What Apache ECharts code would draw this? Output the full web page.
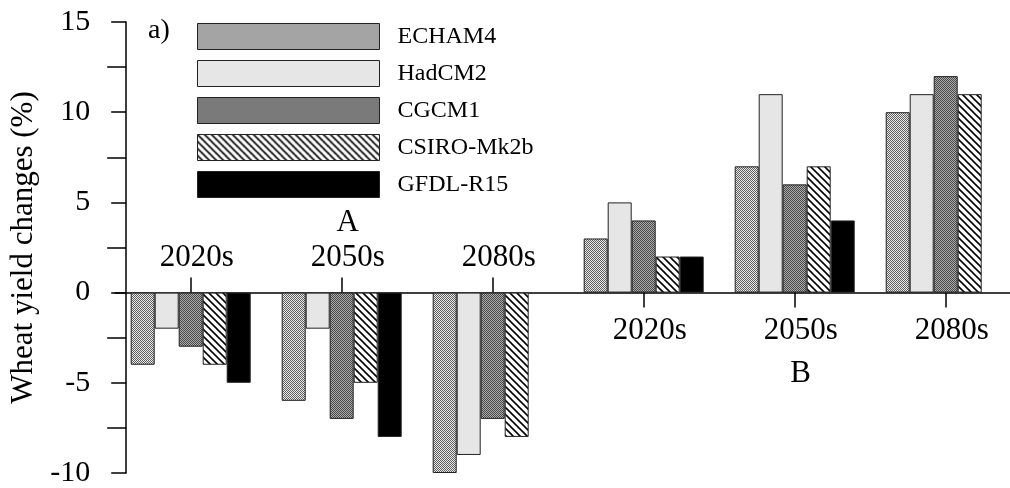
<!DOCTYPE html>
<html>
<head>
<meta charset="utf-8">
<title>Wheat yield changes</title>
<script src="https://cdn.jsdelivr.net/npm/echarts@6/dist/echarts.min.js"></script>
<style>
  html, body { margin: 0; padding: 0; background: #fff; }
  #chart { width: 1010px; height: 488px; }
</style>
</head>
<body>
<div id="chart"></div>
<script>
// Scenario groups (A, B) and time slices along the x axis
const groupNames = ['A', 'B'];
const periodLabels = ['2020s', '2050s', '2080s'];
const categories = ['A-2020s', 'A-2050s', 'A-2080s', 'B-2020s', 'B-2050s', 'B-2080s'];

// Wheat yield changes (%) per climate model, one value per category
const modelNames = ['ECHAM4', 'HadCM2', 'CGCM1', 'CSIRO-Mk2b', 'GFDL-R15'];
const echam4 = [-4, -6, -10, 3, 7, 10];
const hadcm2 = [-2, -2, -9, 5, 11, 11];
const cgcm1 = [-3, -7, -7, 4, 6, 12];
const csiro = [-4, -5, -8, 2, 7, 11];
const gfdl = [-5, -8, null, 2, 4, null];

// Y axis range and tick step
const yMin = -10, yMax = 15, yStep = 5;

const FONT = '"Liberation Serif", "DejaVu Serif", serif';

// Plot box
const plotLeft = 115.2, plotTop = 22, plotWidth = 906, plotHeight = 451;
// Height of the part of the plot above the zero line; the category
// labels/ticks live on the bottom edge of a helper grid of this height.
const upperHeight = plotHeight * (yMax - 0) / (yMax - yMin);

// Small canvas tiles used as fill patterns
function checkerTile(dark, light) {
  const c = document.createElement('canvas');
  c.width = 2; c.height = 2;
  const g = c.getContext('2d');
  g.fillStyle = light; g.fillRect(0, 0, 2, 2);
  g.fillStyle = dark; g.fillRect(0, 0, 1, 1); g.fillRect(1, 1, 1, 1);
  return { image: c, repeat: 'repeat' };
}
function hatchTile() {
  const s = 7;
  const c = document.createElement('canvas');
  c.width = s; c.height = s;
  const g = c.getContext('2d');
  g.fillStyle = '#fff'; g.fillRect(0, 0, s, s);
  g.strokeStyle = '#000'; g.lineWidth = 1.6;
  for (const k of [-s, 0, s]) {
    g.beginPath(); g.moveTo(k - 1, -1); g.lineTo(k + s + 1, s + 1); g.stroke();
  }
  return { image: c, repeat: 'repeat' };
}

const fills = [
  checkerTile('#5e5e5e', '#eaeaea'),
  '#e6e6e6',
  checkerTile('#4a4a4a', '#ababab'),
  hatchTile(),
  '#000000'
];
const seriesValues = [echam4, hadcm2, cgcm1, csiro, gfdl];

const axisStroke = { color: '#000', width: 1.5 };

const chart = echarts.init(document.getElementById('chart'), null, { renderer: 'canvas' });

const option = {
  backgroundColor: '#fff',
  animation: false,
  grid: [
    { left: plotLeft, top: plotTop, width: plotWidth, height: plotHeight,
      containLabel: false, outerBoundsMode: 'none' },
    { left: plotLeft, top: plotTop, width: plotWidth, height: upperHeight,
      containLabel: false, outerBoundsMode: 'none' }
  ],
  legend: {
    orient: 'vertical',
    left: 197, top: 23, padding: 0,
    icon: 'rect',
    itemWidth: 182, itemHeight: 26, itemGap: 10,
    itemStyle: { borderWidth: 1, borderColor: '#222' },
    textStyle: { fontFamily: FONT, fontSize: 24, color: '#000', lineHeight: 26, padding: [0, 0, 0, 13] },
    data: modelNames
  },
  graphic: [
    { type: 'text', left: 148, top: 17, style: { text: 'a)', font: '28px ' + FONT, fill: '#000' } }
  ],
  xAxis: [
    {
      type: 'category', data: categories, gridIndex: 0, position: 'bottom',
      axisLine: { show: true, onZero: true, onZeroAxisIndex: 0, lineStyle: axisStroke },
      axisTick: { show: false }, axisLabel: { show: false }, splitLine: { show: false }
    },
    {
      // group A: labels and ticks above the zero line
      type: 'category', data: categories, gridIndex: 1, position: 'bottom',
      axisLine: { show: false, onZero: false },
      axisTick: { show: true, inside: true, length: 15, alignWithLabel: true,
        interval: (i) => i < 3, lineStyle: axisStroke },
      axisLabel: {
        show: true, inside: true, margin: 19, interval: (i) => i < 3,
        fontFamily: FONT, fontSize: 31, color: '#000', lineHeight: 32, padding: [0, 0, 0, 12],
        formatter: (v, i) => (i === 1 ? '{n|' + groupNames[0] + '}\n' : '') + periodLabels[i % 3],
        rich: { n: { fontFamily: FONT, fontSize: 31, color: '#000', lineHeight: 38 } }
      },
      splitLine: { show: false }
    },
    {
      // group B: labels and ticks below the zero line
      type: 'category', data: categories, gridIndex: 1, position: 'bottom',
      axisLine: { show: false, onZero: false },
      axisTick: { show: true, inside: false, length: 15, alignWithLabel: true,
        interval: (i) => i >= 3, lineStyle: axisStroke },
      axisLabel: {
        show: true, inside: false, margin: 22, interval: (i) => i >= 3,
        fontFamily: FONT, fontSize: 31, color: '#000', lineHeight: 32, padding: [0, 0, 0, 12],
        formatter: (v, i) => periodLabels[i % 3] + (i === 4 ? '\n{n|' + groupNames[1] + '}' : ''),
        rich: { n: { fontFamily: FONT, fontSize: 31, color: '#000', lineHeight: 54 } }
      },
      splitLine: { show: false }
    }
  ],
  yAxis: [
    {
      type: 'value', gridIndex: 0, min: yMin, max: yMax, interval: yStep,
      offset: -11,
      name: 'Wheat yield changes (%)', nameLocation: 'middle', nameGap: 79,
      nameTextStyle: { fontFamily: FONT, fontSize: 31, color: '#000' },
      axisLine: { show: true, onZero: false, lineStyle: axisStroke },
      axisTick: { show: true, length: 15, lineStyle: axisStroke },
      minorTick: { show: true, splitNumber: 2, length: 19, lineStyle: axisStroke },
      axisLabel: { fontFamily: FONT, fontSize: 30, color: '#000', margin: 36 },
      splitLine: { show: false }, minorSplitLine: { show: false }
    },
    {
      type: 'value', gridIndex: 1, min: 0, max: yMax, show: false,
      splitLine: { show: false }
    }
  ],
  series: modelNames.map((name, k) => ({
    name: name,
    type: 'bar',
    xAxisIndex: 0, yAxisIndex: 0,
    barWidth: 24, barGap: '0%',
    data: seriesValues[k],
    itemStyle: { color: fills[k], borderColor: '#222', borderWidth: 1 },
    emphasis: { disabled: true }
  }))
};

chart.setOption(option);
</script>
</body>
</html>
